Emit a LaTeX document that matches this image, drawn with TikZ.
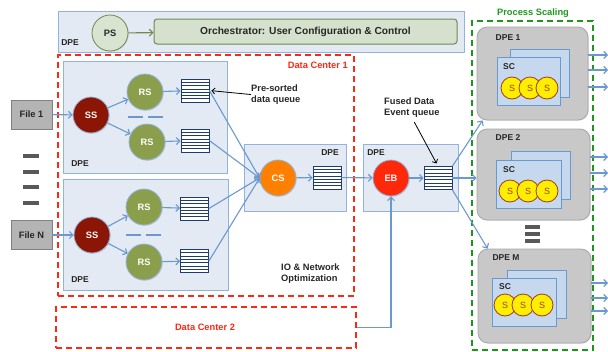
\documentclass[tikz,border=0pt]{standalone}
\usepackage{fontspec}
\setmainfont{Liberation Sans}
\usetikzlibrary{arrows.meta,fit,calc,shadows}

\definecolor{linkblue}{RGB}{106,153,207}
\definecolor{dpefill}{RGB}{228,234,243}
\definecolor{dpeedge}{RGB}{146,180,220}
\definecolor{dcred}{RGB}{255,40,20}
\definecolor{scgreen}{RGB}{30,150,30}
\definecolor{ssred}{RGB}{140,22,5}
\definecolor{rsgreen}{RGB}{138,158,76}
\definecolor{csorange}{RGB}{255,128,0}
\definecolor{ebred}{RGB}{255,40,10}
\definecolor{qblue}{RGB}{30,60,110}
\definecolor{psfill}{RGB}{216,228,208}
\definecolor{psedge}{RGB}{110,138,82}
\definecolor{orchfill}{RGB}{213,225,205}
\definecolor{filegray}{RGB}{180,180,180}
\definecolor{boxgray}{RGB}{200,200,200}
\definecolor{scfill}{RGB}{197,216,237}
\definecolor{syellow}{RGB}{255,238,0}
\definecolor{sbrown}{RGB}{160,60,30}

\tikzset{
  txt/.style={font=\bfseries\fontsize{9.3}{11}\selectfont, text=black!85, inner sep=0pt},
  dpetag/.style={font=\bfseries\fontsize{8.5}{10}\selectfont, text=black!85, inner sep=0pt},
  dpebox/.style={draw=dpeedge, fill=dpefill, line width=1pt, inner sep=0pt},
  dcbox/.style={draw=dcred, line width=1.3pt, dash pattern=on 6pt off 4pt, inner sep=0pt},
  scbox/.style={draw=scgreen, line width=1.3pt, dash pattern=on 6pt off 4pt, inner sep=0pt},
  graybox/.style={draw=black!35, fill=boxgray, rounded corners=10pt, line width=0.8pt, inner sep=0pt,
    drop shadow={opacity=0.2, shadow xshift=0.8pt, shadow yshift=-0.8pt}},
  screct/.style={draw=linkblue, fill=scfill, line width=0.8pt, inner sep=0pt},
  proc/.style={circle, draw=dpeedge, line width=0.8pt, minimum size=36pt, inner sep=0pt, text=white,
    font=\bfseries\fontsize{9.3}{11}\selectfont,
    drop shadow={opacity=0.25, shadow xshift=0.8pt, shadow yshift=-0.8pt}},
  sproc/.style={circle, draw=sbrown, fill=syellow, line width=0.8pt, minimum size=22pt, inner sep=0pt,
    text=sbrown, font=\fontsize{9}{10}\selectfont},
  orch/.style={draw=psedge, fill=orchfill, rounded corners=3pt, line width=1pt, minimum width=303pt,
    minimum height=25pt, inner sep=0pt, font=\bfseries\fontsize{10.2}{12}\selectfont, text=black!85},
  filebox/.style={draw=black!50, fill=filegray, line width=0.8pt, minimum width=41pt, minimum height=29pt,
    inner sep=0pt, font=\bfseries\fontsize{9.3}{11}\selectfont, text=black!85},
  queue/.style={draw=qblue, fill=white, line width=0.8pt, minimum width=28pt, minimum height=23pt, inner sep=0pt,
    path picture={\foreach \k in {1,...,6}{\draw[qblue, line width=0.7pt]
      ($(path picture bounding box.north west)!\k/7!(path picture bounding box.south west)$) --
      ($(path picture bounding box.north east)!\k/7!(path picture bounding box.south east)$);}}},
  link/.style={draw=linkblue, line width=1.1pt, -{Straight Barb[length=3.5pt,width=7pt]}},
  note/.style={draw=black, line width=0.8pt, -{Straight Barb[length=3pt,width=6pt]}},
  gap/.style={draw=linkblue, line width=1.5pt, dash pattern=on 15pt off 5pt},
  bars/.style={draw=black!65, line width=3.5pt}
}

\begin{document}
\begin{tikzpicture}[x=1pt,y=-1pt]
\useasboundingbox (0,0) rectangle (608,351);
\coordinate (outEdge) at (608,0);

% orchestration layer
\node[dpebox, fit={(58,11) (464,52)}] (dpeTop) {};
\node[dpetag] (dpeTopTag) at (70,43) {DPE};
\node[proc, fill=psfill, draw=psedge, text=black!85] (ps) at (110,33) {PS};
\node[orch] (orch) at (305.5,31.5) {Orchestrator: User Configuration \& Control};
\draw[link, draw=psedge] (ps) -- (orch);

% data centers
\node[dcbox, fit={(58,55) (354,296)}] (dc1) {};
\node[txt, text=dcred, anchor=east] (dc1Tag) at (348,65) {Data Center 1};
\node[dcbox, fit={(56,307) (356,348)}] (dc2) {};
\node[txt, text=dcred] (dc2Tag) at (205,327) {Data Center 2};

% input files
\node[filebox] (file1) at (31.5,114.5) {File 1};
\node[filebox] (fileN) at (31.5,235) {File N};
\foreach \y in {156,172,187,203} \draw[bars] (23,\y) -- (39,\y);

% upper DPE
\node[dpebox, fit={(63,61) (227,173)}] (dpeUp) {};
\node[dpetag] (dpeUpTag) at (80,164) {DPE};
\node[proc, fill=ssred] (ss1) at (91,115) {SS};
\node[proc, fill=rsgreen] (rs1a) at (145,92) {RS};
\node[proc, fill=rsgreen] (rs1b) at (147,142) {RS};
\node[queue] (q1a) at (195,90.5) {};
\node[queue] (q1b) at (195,140.5) {};
\draw[gap] (128,117) -- (163,117);

% lower DPE
\node[dpebox, fit={(63,179) (228,290)}] (dpeLow) {};
\node[dpetag] (dpeLowTag) at (80,280) {DPE};
\node[proc, fill=ssred] (ss2) at (92,235) {SS};
\node[proc, fill=rsgreen] (rs2a) at (144,207) {RS};
\node[proc, fill=rsgreen] (rs2b) at (144,262) {RS};
\node[queue] (q2a) at (194.5,208.5) {};
\node[queue] (q2b) at (194.5,261) {};
\draw[gap] (126,235) -- (161,235);

% combining and event building
\node[dpebox, fit={(244,144) (346,211)}] (dpeCS) {};
\node[dpetag] (dpeCSTag) at (330,153) {DPE};
\node[proc, fill=csorange] (cs) at (278,178) {CS};
\node[queue] (qcs) at (327,177.5) {};
\node[dpebox, fit={(363,144) (458,211)}] (dpeEB) {};
\node[dpetag] (dpeEBTag) at (376,153) {DPE};
\node[proc, fill=ebred] (eb) at (391,178) {EB};
\node[queue] (qeb) at (438,178) {};

\node[txt, align=left, anchor=north west] (presort) at (251,84.5) {Pre-sorted\\data queue};
\node[txt, align=left, anchor=north west] (fused) at (384,97.5) {Fused Data\\Event queue};
\node[txt, align=left, anchor=north west] (ionet) at (281,263.5) {IO \& Network\\Optimization};
\draw[note, shorten >=2pt] (presort.west) -- (q1a.east);
\draw[note, shorten <=5pt, shorten >=3pt] (fused.south) -- (qeb.north);

% process scaling
\node[scbox, fit={(472,21) (593,350)}] (scale) {};
\node[txt, text=scgreen] (scaleTag) at (533,13) {Process Scaling};

\node[graybox, fit={(477,27) (588,120)}] (dpeA) {};
\node[dpetag] (dpeATag) at (508,38) {DPE 1};
\node[screct, fit={(510,49) (569,97)}] (scAback) {};
\node[screct, fit={(497,57) (560,105)}] (scA) {};
\node[dpetag] (scATag) at (509,67) {SC};
\foreach \x in {512,530,547} \node[sproc] (sA\x) at (\x,88) {S};

\node[graybox, fit={(477,129) (590,220)}] (dpeB) {};
\node[dpetag] (dpeBTag) at (508,138) {DPE 2};
\node[screct, fit={(511,151) (570,199)}] (scBback) {};
\node[screct, fit={(496,160) (561,208)}] (scB) {};
\node[dpetag] (scBTag) at (509,170) {SC};
\foreach \x in {510,528,547} \node[sproc] (sB\x) at (\x,191) {S};

\foreach \y in {227,234,241} \draw[bars] (525,\y) -- (540,\y);

\node[graybox, fit={(478,249) (591,343)}] (dpeM) {};
\node[dpetag] (dpeMTag) at (506,258) {DPE M};
\node[screct, fit={(507,270) (566,318)}] (scMback) {};
\node[screct, fit={(492,278) (556,326)}] (scM) {};
\node[dpetag] (scMTag) at (505,287) {SC};
\foreach \x in {505,523,542} \node[sproc] (sM\x) at (\x,305) {S};

% connectors
\draw[link] (file1) -- (ss1);
\draw[link] (fileN) -- (ss2);
\draw[link] (ss1) -- (rs1a);
\draw[link] (ss1) -- (rs1b);
\draw[link] (ss2) -- (rs2a);
\draw[link] (ss2) -- (rs2b);
\draw[link] (rs1a) -- (q1a);
\draw[link] (rs1b) -- (q1b);
\draw[link] (rs2a) -- (q2a);
\draw[link] (rs2b) -- (q2b);
\foreach \q in {q1a,q1b,q2a,q2b} \draw[link] (\q.east) -- (cs.west);
\draw[link] (cs) -- (qcs);
\draw[link] (qcs) -- (eb);
\draw[link] (eb) -- (qeb);
\draw[link] (dc2.east) -| (eb.south);
\draw[link] (qeb.north east) -- ([xshift=6pt]dpeA.south west);
\draw[link] (qeb.east) -- (dpeB.west |- qeb.east);
\draw[link] (qeb.south east) -- ([xshift=10pt]dpeM.north west);
\foreach \y in {55,70,87} \draw[link] (dpeA.east |- 0,\y) -- (outEdge |- 0,\y);
\foreach \y in {157,173,189} \draw[link] (dpeB.east |- 0,\y) -- (outEdge |- 0,\y);
\foreach \y in {283,298,311} \draw[link] (dpeM.east |- 0,\y) -- (outEdge |- 0,\y);
\end{tikzpicture}
\end{document}
